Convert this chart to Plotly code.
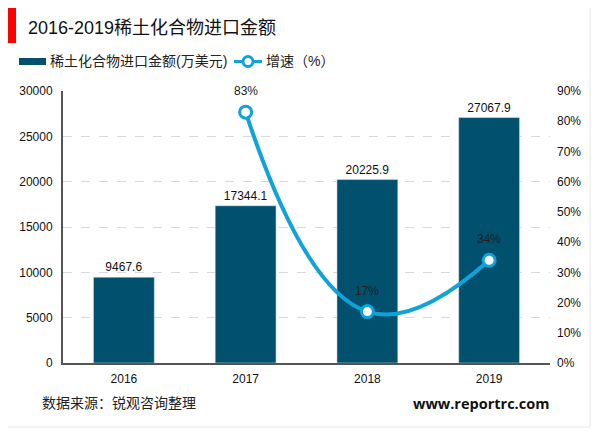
import plotly.graph_objects as go

years = ['2016', '2017', '2018', '2019']
amount = [9467.6, 17344.1, 20225.9, 27067.9]
growth = [None, 83, 17, 34]
growth_labels = ['', '83%', '17%', '34%']
left_ticks = [0, 5000, 10000, 15000, 20000, 25000, 30000]
right_ticks = [0, 10, 20, 30, 40, 50, 60, 70, 80, 90]

font_cn = 'Liberation Sans, Noto Sans CJK SC'
bar_color = '#00506e'
line_color = '#10a3d9'


# page pixels to paper coordinates (plot area is 63..550 by 91..363)
def px(x):
    return (x - 63) / 487


def py(y):
    return (363 - y) / 272


fig = go.Figure()
fig.add_trace(go.Bar(
    x=years, y=amount, name='稀土化合物进口金额(万美元)',
    marker=dict(color=bar_color), width=0.5,
    text=[str(v) for v in amount], textposition='outside', cliponaxis=False,
    textfont=dict(size=12, color='#111111'),
))
fig.add_trace(go.Scatter(
    x=years, y=growth, name='增速（%）', yaxis='y2',
    mode='lines+markers',
    line=dict(color=line_color, width=4, shape='spline', smoothing=1.3),
    marker=dict(size=12, color='white', line=dict(color=line_color, width=3)),
    cliponaxis=False,
))

shapes = [
    dict(type='rect', xref='paper', yref='paper', x0=px(5), x1=px(590), y0=py(427), y1=py(6),
         line=dict(color='#e6e6e6', width=1), layer='below'),
    dict(type='rect', xref='paper', yref='paper', x0=px(5), x1=px(16), y0=py(43), y1=py(6),
         line=dict(width=0), fillcolor='#ff0000'),
    # legend keys
    dict(type='rect', xref='paper', yref='paper', x0=px(19), x1=px(46), y0=py(65), y1=py(58),
         line=dict(width=0), fillcolor=bar_color),
    dict(type='line', xref='paper', yref='paper', x0=px(234), x1=px(262), y0=py(61.5), y1=py(61.5),
         line=dict(color=line_color, width=3)),
    dict(type='circle', xref='paper', yref='paper', x0=px(243), x1=px(253), y0=py(66.5), y1=py(56.5),
         line=dict(color=line_color, width=3), fillcolor='white'),
]

annotations = [
    dict(text='稀土化合物进口金额(万美元)', xref='paper', yref='paper', x=px(48), y=py(61),
         xanchor='left', yanchor='middle', showarrow=False, font=dict(size=14, color='#222222')),
    dict(text='增速（%）', xref='paper', yref='paper', x=px(264), y=py(61),
         xanchor='left', yanchor='middle', showarrow=False, font=dict(size=14, color='#222222')),
    dict(text='数据来源：锐观咨询整理', xref='paper', yref='paper', x=px(40), y=py(403),
         xanchor='left', yanchor='middle', showarrow=False, font=dict(size=14, color='#222222')),
    dict(text='<b>www.reportrc.com</b>', xref='paper', yref='paper', x=px(551), y=py(403),
         xanchor='right', yanchor='middle', showarrow=False,
         font=dict(size=14.5, color='#111111', family='Open Sans')),
]
# numeric strings would be read as category positions, so use the index here
for i, (value, label) in enumerate(zip(growth, growth_labels)):
    if value is not None:
        annotations.append(dict(text=label, x=i, y=value, xref='x', yref='y2', yshift=21,
                                showarrow=False, font=dict(size=12, color='#222222')))

fig.update_layout(
    # the page adds 8px around the figure
    width=592, height=425,
    autosize=False,
    margin=dict(l=55, r=50, t=83, b=70),
    paper_bgcolor='white', plot_bgcolor='white',
    font=dict(family=font_cn, size=12, color='#111111'),
    showlegend=False,
    title=dict(text='2016-2019稀土化合物进口金额', x=20 / 592, xanchor='left',
               y=1 - 20 / 425, yanchor='middle', font=dict(size=18, color='#111111')),
    xaxis=dict(type='category', range=[-0.5, 3.5], showline=True, linecolor='#555555', linewidth=2,
               ticks='', showgrid=False, tickfont=dict(size=12), ticklabelstandoff=4),
    yaxis=dict(range=[0, 30000], tickvals=left_ticks, tickformat='d', showline=True,
               linecolor='#555555', linewidth=2, ticks='', gridcolor='#d9d9d9', griddash='dash',
               gridwidth=1, zeroline=False, tickfont=dict(size=12), ticklabelstandoff=6),
    yaxis2=dict(range=[0, 90], tickvals=right_ticks, ticktext=[f'{t}%' for t in right_ticks],
                overlaying='y', side='right', showgrid=False, showline=False, ticks='',
                zeroline=False, tickfont=dict(size=12), ticklabelstandoff=6),
    shapes=shapes,
    annotations=annotations,
)

fig.write_html("out.html")
